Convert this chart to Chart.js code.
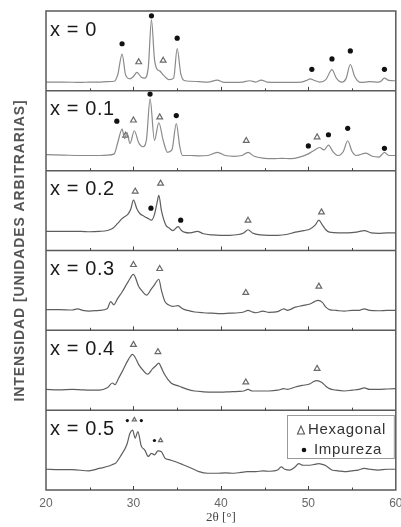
<!DOCTYPE html>
<html><head><meta charset="utf-8">
<script src="https://cdn.jsdelivr.net/npm/chart.js@4"></script>
<style>html,body{margin:0;padding:0;background:#fff;}canvas{display:block}</style>
</head><body>
<canvas id="c" width="401" height="527"></canvas>
<script>
// Panel labels (top to bottom)
const panelLabels = ['x = 0', 'x = 0.1', 'x = 0.2', 'x = 0.3', 'x = 0.4', 'x = 0.5'];
const xTicks = [20, 30, 40, 50, 60];

// XRD scans: [2θ, intensity (% of panel height)]
const scan0 = [[20,11],[22,11],[24,10.5],[25,11],[26,11],[27,11.5],[27.8,12],[28.2,20],[28.7,46],[29.1,20],[29.6,15],[30.0,18],[30.4,23],[30.9,17],[31.3,16],[31.7,30],[32.06,89],[32.4,40],[32.7,27],[33.0,25],[33.4,20],[34.1,14],[34.6,16],[35.0,53],[35.4,22],[35.8,13],[36.5,12],[37.5,11.5],[38.5,11],[39.6,13.5],[40.2,11],[41.5,10.5],[42.5,11],[43.3,12.6],[44,11],[44.6,13.5],[45.3,11],[46.5,10.5],[48,10.5],[49.2,11],[49.8,13],[50.2,15],[50.7,13],[51.3,11],[52.0,14],[52.7,26.6],[53.2,16],[53.8,11],[54.3,15],[54.8,33],[55.3,18],[56.0,10.5],[57,11.5],[58,11],[58.3,12],[58.7,16],[59.2,13],[60,12.6]];
const scan1 = [[20,20],[22,19.5],[24,19],[26,19],[27,19.5],[27.8,21],[28.2,35],[28.7,52],[29.0,40],[29.25,48],[29.6,34],[30.1,50],[30.6,35],[31.1,30],[31.5,40],[31.9,90],[32.4,38],[32.9,60],[33.4,38],[33.9,23],[34.4,26],[34.9,59],[35.3,30],[35.6,19],[36.5,19],[37.5,18.5],[38.5,19],[39.6,23],[40.5,19],[41.5,18],[42.4,19],[43.1,23],[43.8,18],[45,15.5],[46,15],[47,15.5],[48,15],[49,17],[50.0,21],[50.6,25],[51.3,29],[51.8,26],[52.3,32],[52.8,24],[53.4,19],[54.0,24],[54.5,37.5],[55.0,24],[55.5,19],[56.6,22],[57.3,18],[58.1,17],[58.7,23],[59.2,19],[60,19]];
const scan2 = [[20,24],[22,24],[24,24],[25,23.5],[26.1,24],[27,25],[27.6,27.5],[28.2,34],[28.7,40],[29.4,46],[29.7,52],[30.0,63],[30.4,52],[30.75,46],[31.2,43],[31.7,40],[32.05,38],[32.4,45],[32.7,60],[32.9,69],[33.2,50],[33.7,32],[34.1,28],[34.5,25],[35.1,30],[35.5,25],[35.8,23],[36.5,22],[37.3,24],[38,21],[39,19.5],[40,19],[41,19],[42,20],[42.6,22],[43.1,26],[43.6,22],[44.5,19.5],[45.5,19],[46.5,19],[47.5,20],[48.5,23],[49.5,25],[50.2,27],[50.8,32],[51.2,38],[51.6,32],[52.0,26],[52.4,23],[53.5,22],[54.5,22],[55.5,23],[56.4,25],[57.2,22],[58,21.5],[59,22],[60,22]];
const scan3 = [[20,26],[21.5,26],[23,25.5],[23.6,27],[24.2,25],[24.9,24],[26.1,25],[27.0,27],[27.4,36],[27.75,32],[28.2,40],[28.7,48],[29.4,61],[30.0,70],[30.6,55],[31.0,49],[31.5,44],[32.05,52],[32.4,57],[32.9,64],[33.2,50],[33.6,36],[34.0,32],[34.5,30],[35.1,31],[35.6,27],[36.2,25],[37,23],[38,22],[39,21.5],[40,21],[41,21.5],[42,22],[42.6,23],[43.1,25],[43.6,23],[44.0,22],[44.8,24],[45.5,22.5],[46.5,23.5],[47.2,27],[47.6,25],[48.5,29],[49.3,31],[50.2,33],[50.7,36],[51.1,37.5],[51.6,35],[52.0,29],[52.4,26],[53.2,25],[54.1,24],[55,25],[55.8,25],[56.4,27],[57,25],[58,24.5],[59,25],[60,25]];
const scan4 = [[20,26],[21.5,25.5],[23,26],[24,25.5],[25,25],[26.1,25],[27,28],[27.6,34],[27.9,32],[28.3,40],[28.7,48],[29.4,63],[29.9,70],[30.2,66],[30.6,57],[31.1,50],[31.6,45],[32.2,52],[32.6,56],[32.9,59],[33.2,53],[33.6,44],[34.3,34],[35.25,30],[36.2,26],[37,24],[38,23],[39,22.5],[40,22.5],[41,23],[42,23.5],[42.6,24],[43.1,26],[43.6,24],[44.5,24],[45.5,24],[46.5,25],[47.2,27],[47.6,26],[48.5,29],[49.3,31],[50.2,33],[50.6,36],[51.0,37],[51.5,35],[52.0,30],[52.4,27],[53.2,25],[54.1,24],[55,25],[55.8,26],[56.4,28],[57.0,26],[58,26],[59,26.5],[60,27]];
const scan5 = [[20,26],[21.5,25.5],[23,25.5],[24.9,24],[26.1,27],[27.2,30],[27.6,32],[28.0,34],[28.5,42],[29.25,57],[29.6,71],[29.9,75],[30.2,65],[30.5,73],[30.9,55],[31.3,50],[31.7,42],[32.05,46],[32.4,44],[32.8,49],[33.2,48],[33.6,40],[34.1,38],[34.9,35],[35.6,32],[36.7,27],[37.5,23],[38.5,21],[39.5,21],[40.5,21.5],[41.5,21],[42.3,22],[43.0,23],[44,23],[44.8,24],[45.6,23.5],[46.5,25],[46.9,29],[47.3,26],[47.9,25],[48.5,29],[48.9,33],[49.4,31],[50.2,31],[50.7,32],[51.2,33],[51.6,32],[51.9,31],[52.3,28],[52.7,25],[53.4,24],[54.1,23],[55,24],[55.7,25],[56.4,27],[57,26],[58,25],[59,26],[60,26]];

// Phase markers: [2θ, height (% of panel)]
const impurity0 = [[28.7,59],[32.06,94],[35.0,66],[50.4,27],[52.7,40],[54.8,50],[58.7,27]];
const hexagonal0 = [[30.6,36],[33.4,38]];
const impurity1 = [[28.1,62],[31.9,96],[34.9,69],[50.0,31],[52.3,45],[54.5,53],[58.7,28]];
const hexagonal1 = [[29.1,44],[30.0,63],[33.0,67],[42.9,37.5],[51.0,42]];
const impurity2 = [[32.0,53],[35.4,38]];
const hexagonal2 = [[30.2,74],[33.1,84],[43.1,37.5],[51.5,48]];
const hexagonal3 = [[30.0,82],[33.0,77],[42.85,47],[51.2,55]];
const hexagonal4 = [[30.0,82],[32.8,73],[42.85,35],[51.0,52]];
const impurity5 = [[29.3,87],[30.9,87],[32.4,62]];
const hexagonal5 = [[30.1,88],[33.1,62]];

const legendLabels = ['Hexagonal', 'Impureza'];

const scans = [scan0, scan1, scan2, scan3, scan4, scan5];
const toPts = (arr, k) => arr.map(([t, v]) => ({x: t, y: (5 - k) + v / 100}));

const datasets = [];
scans.forEach((s, k) => {
  datasets.push({type: 'line', data: toPts(s, k), borderColor: k < 2 ? '#8a8a8a' : '#5e5e5e',
    borderWidth: 1.2, pointRadius: 0, fill: false, cubicInterpolationMode: 'monotone'});
});
const markerSets = [
  [impurity0, 0, 'imp', 2.6], [hexagonal0, 0, 'hex', 3.3],
  [impurity1, 1, 'imp', 2.6], [hexagonal1, 1, 'hex', 3.3],
  [impurity2, 2, 'imp', 2.6], [hexagonal2, 2, 'hex', 3.3],
  [hexagonal3, 3, 'hex', 3.3], [hexagonal4, 4, 'hex', 3.3],
  [impurity5, 5, 'imp', 1.6], [hexagonal5, 5, 'hex', 2.4]
];
markerSets.forEach(([arr, k, kind, r]) => {
  datasets.push(kind === 'imp'
    ? {type: 'scatter', data: toPts(arr, k), pointStyle: 'circle', pointRadius: r,
       pointBackgroundColor: '#111', pointBorderColor: '#111', pointBorderWidth: 0, showLine: false}
    : {type: 'scatter', data: toPts(arr, k), pointStyle: 'triangle', pointRadius: r,
       pointBackgroundColor: 'rgba(255,255,255,0)', pointBorderColor: '#6a6a6a', pointBorderWidth: 1.2, showLine: false});
});

const frame = {
  id: 'frame',
  afterDatasetsDraw(chart) {
    const {ctx, chartArea: a, scales: {x, y}} = chart;
    ctx.save();
    ctx.strokeStyle = '#5a5a5a';
    ctx.lineWidth = 1.5;
    ctx.beginPath();
    for (let k = 1; k < 6; k++) {
      const py = y.getPixelForValue(k);
      ctx.moveTo(a.left, py); ctx.lineTo(a.right, py);
    }
    ctx.stroke();
    ctx.strokeRect(a.left, a.top, a.width, a.height);
    // inward tick marks at each panel bottom
    ctx.lineWidth = 1;
    ctx.strokeStyle = '#444';
    ctx.beginPath();
    for (let k = 0; k < 6; k++) {
      const yb = y.getPixelForValue(k);
      for (let t = 25; t < 60; t += 5) {
        const px = Math.round(x.getPixelForValue(t)) + 0.5;
        const len = t % 10 === 0 ? 4 : 2.5;
        ctx.moveTo(px, yb); ctx.lineTo(px, yb - len);
      }
    }
    ctx.stroke();
    // panel labels
    ctx.fillStyle = '#1a1a1a';
    ctx.font = '20px "Liberation Sans", Arial, sans-serif';
    ctx.textBaseline = 'middle';
    ctx.textAlign = 'left';
    try { ctx.letterSpacing = '0.6px'; } catch (e) {}
    panelLabels.forEach((lab, k) => {
      const top = y.getPixelForValue(6 - k);
      ctx.fillText(lab, a.left + 4, top + 19);
    });
    // legend box
    try { ctx.letterSpacing = '0.7px'; } catch (e) {}
    const bx = 287, by = 415, bw = a.right - 2 - bx, bh = 43;
    ctx.fillStyle = '#fff';
    ctx.fillRect(bx, by, bw, bh);
    ctx.strokeStyle = '#9a9a9a';
    ctx.lineWidth = 1;
    ctx.strokeRect(bx + 0.5, by + 0.5, bw, bh);
    ctx.fillStyle = '#333';
    ctx.font = '15px "Liberation Sans", Arial, sans-serif';
    ctx.fillText(legendLabels[0], 308, 430);
    ctx.fillText(legendLabels[1], 314, 450);
    // legend symbols
    ctx.strokeStyle = '#555';
    ctx.lineWidth = 1.1;
    ctx.beginPath();
    ctx.moveTo(301, 426); ctx.lineTo(297.5, 434); ctx.lineTo(304.5, 434); ctx.closePath();
    ctx.stroke();
    ctx.fillStyle = '#111';
    ctx.beginPath(); ctx.arc(304, 450, 2.3, 0, Math.PI * 2); ctx.fill();
    // y axis title
    try { ctx.letterSpacing = '0.9px'; } catch (e) {}
    ctx.translate(20, (a.top + a.bottom) / 2);
    ctx.rotate(-Math.PI / 2);
    ctx.textAlign = 'center';
    ctx.fillStyle = '#555';
    ctx.font = 'bold 14px "Liberation Sans", Arial, sans-serif';
    ctx.fillText('INTENSIDAD [UNIDADES ARBITRARIAS]', 0, 0);
    ctx.restore();
  }
};

new Chart(document.getElementById('c'), {
  type: 'line',
  data: {datasets},
  options: {
    responsive: false, animation: false, devicePixelRatio: 1,
    layout: {padding: {left: 0, right: 1, top: 11, bottom: 0}},
    plugins: {legend: {display: false}, tooltip: {enabled: false}},
    scales: {
      x: {type: 'linear', min: 20, max: 60,
        grid: {display: false, drawTicks: false}, border: {display: false},
        afterBuildTicks(s) { s.ticks = xTicks.map(v => ({value: v})); },
        ticks: {padding: 6, color: '#666', maxRotation: 0, autoSkip: false,
          font: {size: 12, family: '"Liberation Sans", Arial, sans-serif'}},
        title: {display: true, text: '2θ [°]', color: '#444', padding: {top: 0, bottom: 2},
          font: {size: 13, family: '"Liberation Serif", "Times New Roman", serif'}},
        afterFit(s) { s.height = 37; s.paddingLeft = 0; s.paddingRight = 0; }
      },
      y: {type: 'linear', min: 0, max: 6,
        grid: {display: false, drawTicks: false}, border: {display: false},
        ticks: {display: false},
        afterFit(s) { s.width = 46; }
      }
    }
  },
  plugins: [frame]
});
</script>
</body></html>
